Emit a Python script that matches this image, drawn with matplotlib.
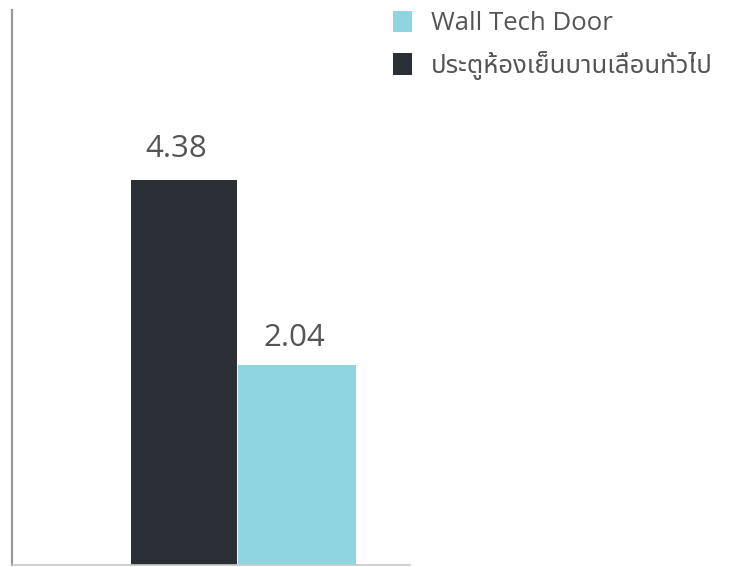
import matplotlib
matplotlib.use('Agg')
import numpy as np
import matplotlib.pyplot as plt
from matplotlib import font_manager
from matplotlib.ft2font import FT2Font
from matplotlib.patches import Patch

# ---- data ----
series = ['ประตูห้องเย็นบานเลื่อนทั่วไป', 'Wall Tech Door']
values = [4.38, 2.04]
value_labels = ['4.38', '2.04']
legend_order = ['Wall Tech Door', 'ประตูห้องเย็นบานเลื่อนทั่วไป']
colors = {'ประตูห้องเย็นบานเลื่อนทั่วไป': '#2b2f36', 'Wall Tech Door': '#8fd5e0'}


def find_thai_font():
    preferred = ['Noto Sans Thai', 'Noto Sans Thai Looped', 'Tahoma', 'Loma', 'Garuda', 'Sarabun']
    found = []
    for f in font_manager.fontManager.ttflist:
        try:
            cmap = FT2Font(f.fname).get_charmap()
        except Exception:
            continue
        if 0x0E01 in cmap and 0x0E40 in cmap:
            found.append(f.name)
    for p in preferred:
        if p in found:
            return p
    return found[0] if found else None


thai = find_thai_font()
fam = ['Open Sans'] + ([thai] if thai else []) + ['DejaVu Sans']
plt.rcParams['font.family'] = fam

W, H = 731, 567
fig = plt.figure(figsize=(W / 100, H / 100), dpi=100)
ax = fig.add_axes([12 / W, 2 / H, (410 - 12) / W, (565 - 10) / H])

Y0 = -0.475
ax.set_ylim(Y0, 6.52)
ax.set_xlim(0, 398)

# layout (pixel-like positions within the axes)
bar_centers = [172, 285]
bar_widths = [106, 118]
label_dx = [-7.5, -3]
label_dy = [23, 19]

vals = np.array(values)
for i, name in enumerate(series):
    ax.bar(bar_centers[i], vals[i] - Y0, bottom=Y0, width=bar_widths[i],
           color=colors[name], linewidth=0)
    ax.annotate(value_labels[i], (bar_centers[i], vals[i]),
                xytext=(label_dx[i] * 0.72, label_dy[i] * 0.72),
                textcoords='offset points', ha='center', va='baseline',
                fontsize=22.5, color='#555555')

for s in ['top', 'right']:
    ax.spines[s].set_visible(False)
ax.spines['left'].set_color('#9a9a9a')
ax.spines['left'].set_linewidth(1.6)
ax.spines['bottom'].set_color('#c8c8c8')
ax.spines['bottom'].set_linewidth(1.2)
ax.set_xticks([])
ax.set_yticks([])

handles = [Patch(facecolor=colors[n], edgecolor='none', label=n) for n in legend_order]
fig.legend(handles=handles, loc='upper left', bbox_to_anchor=(393 / W, 1 - 10.5 / H),
           frameon=False, fontsize=18.5, labelcolor='#555555',
           borderpad=0, borderaxespad=0,
           handlelength=0.74, handleheight=0.9, handletextpad=0.75, labelspacing=0.58)

fig.savefig('out.png', dpi=100, facecolor='white')
